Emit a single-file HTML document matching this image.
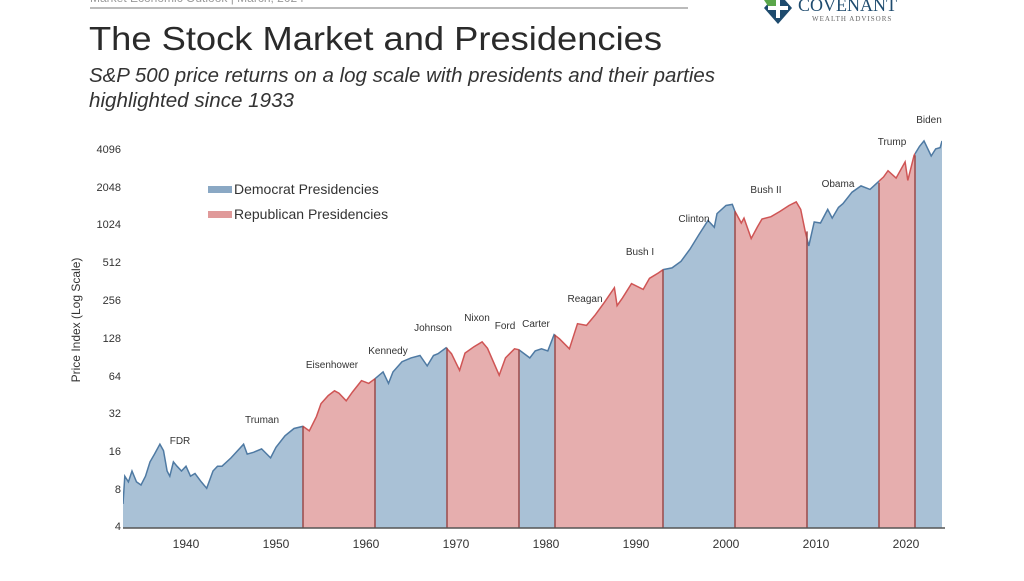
<!DOCTYPE html>
<html><head><meta charset="utf-8"><style>
body{margin:0;background:#fff;width:1024px;height:576px;overflow:hidden;font-family:"Liberation Sans",sans-serif}
</style></head><body>
<svg width="1024" height="576" xmlns="http://www.w3.org/2000/svg" font-family="Liberation Sans, sans-serif">
<line x1="90" y1="8" x2="688" y2="8" stroke="#bbb" stroke-width="2"/>
<text x="90" y="2" font-size="12" fill="#999">Market Economic Outlook | March, 2024</text>
<polygon points="778,-8 792,8 778,24 764,8" fill="#1e4b6e"/>
<rect x="776" y="-4" width="4" height="22" fill="#fff"/><rect x="768" y="6" width="20" height="4" fill="#fff"/>
<polygon points="764,0 776,0 776,6 768,6" fill="#5aa64a"/>
<text x="798" y="11" font-size="18" fill="#1e4b6e" font-family="Liberation Serif, serif">COVENANT</text>
<text x="812" y="21" font-size="7" fill="#666" font-family="Liberation Serif, serif" letter-spacing="1">WEALTH ADVISORS</text>
<text x="89" y="50" font-size="33" fill="#2a2a2a" textLength="573" lengthAdjust="spacingAndGlyphs">The Stock Market and Presidencies</text>
<text x="89" y="82" font-size="20" font-style="italic" fill="#333" textLength="626" lengthAdjust="spacingAndGlyphs">S&amp;P 500 price returns on a log scale with presidents and their parties</text>
<text x="89" y="107" font-size="20" font-style="italic" fill="#333" textLength="205" lengthAdjust="spacingAndGlyphs">highlighted since 1933</text>
<g id="chart"></g>
<g font-size="11" fill="#333" text-anchor="end">
<text x="121" y="530">4</text><text x="121" y="493">8</text><text x="121" y="455">16</text><text x="121" y="417">32</text><text x="121" y="380">64</text><text x="121" y="342">128</text><text x="121" y="304">256</text><text x="121" y="266">512</text><text x="121" y="228">1024</text><text x="121" y="191">2048</text><text x="121" y="153">4096</text>
</g>
<g font-size="12" fill="#333" text-anchor="middle">
<text x="186" y="548">1940</text><text x="276" y="548">1950</text><text x="366" y="548">1960</text><text x="456" y="548">1970</text><text x="546" y="548">1980</text><text x="636" y="548">1990</text><text x="726" y="548">2000</text><text x="816" y="548">2010</text><text x="906" y="548">2020</text>
</g>
<text transform="translate(80,320) rotate(-90)" font-size="12" fill="#333" text-anchor="middle">Price Index (Log Scale)</text>
<g font-size="10" fill="#333" text-anchor="middle">
<text x="180" y="444">FDR</text><text x="262" y="423">Truman</text><text x="332" y="368">Eisenhower</text><text x="388" y="354">Kennedy</text><text x="433" y="331">Johnson</text><text x="477" y="321">Nixon</text><text x="505" y="329">Ford</text><text x="536" y="327">Carter</text><text x="585" y="302">Reagan</text><text x="640" y="255">Bush I</text><text x="694" y="222">Clinton</text><text x="766" y="193">Bush II</text><text x="838" y="187">Obama</text><text x="892" y="145">Trump</text><text x="929" y="123">Biden</text>
</g>
<rect x="208" y="186" width="24" height="7" fill="#8aa8c4"/>
<text x="234" y="194" font-size="14" fill="#333">Democrat Presidencies</text>
<rect x="208" y="211" width="24" height="7" fill="#e09a9a"/>
<text x="234" y="219" font-size="14" fill="#333">Republican Presidencies</text>
</svg>
<script>
var d=[[1933,6],[1933.2,10],[1933.6,9],[1934,11],[1934.5,9],[1935,8.5],[1935.5,10],[1936,13],[1936.5,15],[1937.1,18],[1937.5,16],[1937.9,11],[1938.2,10],[1938.6,13],[1939,12],[1939.5,11],[1940,12],[1940.5,10],[1941,10.5],[1941.7,9],[1942.3,8],[1943,11],[1943.5,12],[1944,12],[1945,14],[1946.4,18],[1946.8,15],[1947.5,15.5],[1948.4,16.5],[1949.4,14],[1950,17],[1951,21],[1952,24],[1953,25],[1953.7,23],[1954.5,30],[1955,38],[1955.8,44],[1956.5,48],[1957,46],[1957.8,40],[1958.5,47],[1959.5,58],[1960.3,55],[1961,60],[1961.9,68],[1962.5,55],[1963,68],[1964,82],[1965,88],[1966,92],[1966.8,76],[1967.5,92],[1968,95],[1968.9,106],[1969.5,95],[1970.4,70],[1971,96],[1972,108],[1972.9,118],[1973.5,105],[1974.8,64],[1975.5,88],[1976.5,104],[1977,102],[1978.2,88],[1978.8,100],[1979.5,104],[1980.2,100],[1980.9,135],[1981.5,125],[1982.6,104],[1983.5,165],[1984.5,160],[1985.5,195],[1986.5,245],[1987.6,320],[1987.9,230],[1988.5,265],[1989.5,345],[1990.8,310],[1991.5,380],[1992.5,420],[1993,445],[1994,460],[1995,520],[1996,650],[1997,850],[1998,1100],[1998.7,970],[1999,1250],[2000,1450],[2000.7,1480],[2001,1300],[2001.7,1050],[2002,1150],[2002.8,790],[2003.5,980],[2004,1130],[2005,1180],[2006,1300],[2007,1450],[2007.8,1550],[2008.3,1350],[2008.8,900],[2009.2,690],[2009.8,1070],[2010.5,1050],[2011.3,1350],[2011.8,1150],[2012.5,1400],[2013,1500],[2014,1850],[2015,2080],[2016,1950],[2016.8,2200],[2017.5,2450],[2018,2750],[2018.9,2400],[2019.9,3230],[2020.2,2300],[2020.9,3650],[2021.5,4300],[2022,4750],[2022.8,3600],[2023.3,4100],[2023.8,4200],[2024,4750]];
function X(t){return 123+(t-1933)*9}
function Y(v){return 526-37.7*(Math.log2(v)-2)}
var base=528,g=document.getElementById('chart');
var line=d.map(function(p,i){return (i?'L':'M')+X(p[0]).toFixed(1)+' '+Y(p[1]).toFixed(1)}).join('');
var area=line+'L'+X(2024)+' '+base+'L'+X(1933)+' '+base+'Z';
var segs=[[1933,1953,'D'],[1953,1961,'R'],[1961,1969,'D'],[1969,1977,'R'],[1977,1981,'D'],[1981,1993,'R'],[1993,2001,'D'],[2001,2009,'R'],[2009,2017,'D'],[2017,2021,'R'],[2021,2024,'D']];
var h='<defs>';
segs.forEach(function(s,i){h+='<clipPath id="c'+i+'"><rect x="'+X(s[0])+'" y="0" width="'+(X(s[1])-X(s[0]))+'" height="'+(base+1)+'"/></clipPath>'});
h+='</defs>';
segs.forEach(function(s,i){var D=s[2]=='D';h+='<g clip-path="url(#c'+i+')"><path d="'+area+'" fill="'+(D?'#a9c1d6':'#e6aeae')+'"/><path d="'+line+'" fill="none" stroke="'+(D?'#4f7aa3':'#cf5555')+'" stroke-width="1.5"/></g>'});
segs.slice(1).forEach(function(s){var v=d.reduce(function(a,p){return Math.abs(p[0]-s[0])<Math.abs(a[0]-s[0])?p:a});h+='<line x1="'+X(s[0])+'" x2="'+X(s[0])+'" y1="'+Y(v[1])+'" y2="'+base+'" stroke="#9a4a4a" stroke-width="1.5"/>'});
h+='<line x1="123" x2="945" y1="'+base+'" y2="'+base+'" stroke="#555" stroke-width="1.5"/>';
g.innerHTML=h;
</script>
</body></html>
